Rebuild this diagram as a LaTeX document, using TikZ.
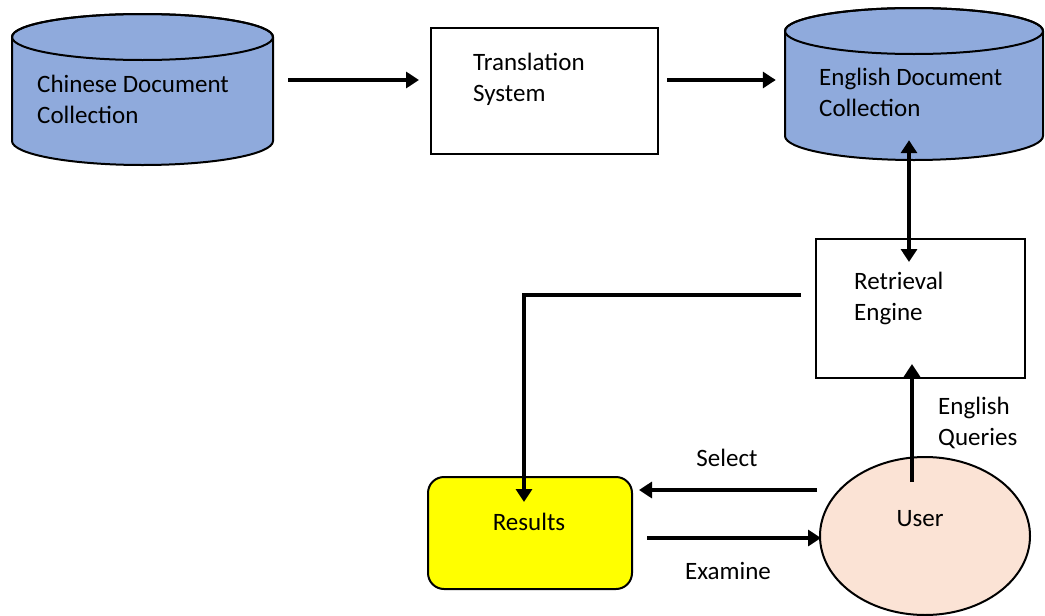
\documentclass[tikz,border=0pt]{standalone}
\usepackage{fontspec}
\setmainfont{Carlito}
\usetikzlibrary{arrows.meta,shapes.geometric}
\definecolor{cylblue}{HTML}{8FAADC}
\definecolor{peach}{HTML}{FBE3D5}
\definecolor{resyellow}{HTML}{FFFF00}
\tikzset{
  txt/.style={anchor=base west,inner sep=0pt,align=left,font=\fontsize{25pt}{31pt}\selectfont},
  ctxt/.style={anchor=base,inner sep=0pt,font=\fontsize{25pt}{31pt}\selectfont},
  boxshape/.style={draw=black,line width=2pt,rectangle,inner sep=0pt},
  area/.style={draw=none,rectangle,inner sep=0pt},
  cylbody/.style={fill=cylblue,draw=black,line width=2pt},
  arr/.style={line width=4.5pt,-{Triangle[length=13pt,width=16pt]}},
  dblarr/.style={line width=4.5pt,{Triangle[length=13pt,width=16pt]}-{Triangle[length=13pt,width=16pt]}},
}
\begin{document}
\begin{tikzpicture}[x=1pt,y=1pt]
\useasboundingbox (0,0) rectangle (1045,-616);
% Chinese cylinder
\path[cylbody] (12,-37) -- (12,-141) arc (180:360:130.5 and 24) -- (273,-37) arc (0:180:130.5 and 23) -- cycle;
\draw[line width=2pt] (142.5,-37) ellipse (130.5 and 23);
\node[area,minimum width=261pt,minimum height=151pt] (chin) at (142.5,-89.5) {};
\node[txt] (chintxt) at (37,-123) {Chinese Document\\Collection};
% English cylinder
\path[cylbody] (785,-31) -- (785,-136) arc (180:360:129 and 24) -- (1043,-31) arc (0:180:129 and 23) -- cycle;
\draw[line width=2pt] (914,-31) ellipse (129 and 23);
\node[area,minimum width=258pt,minimum height=152pt] (eng) at (914,-84) {};
\node[txt] (engtxt) at (819,-116) {English Document\\Collection};
% Translation system
\node[boxshape,minimum width=227pt,minimum height=126pt] (trans) at (544.5,-91) {};
\node[txt] (transtxt) at (473,-101) {Translation\\System};
% Retrieval engine
\node[boxshape,minimum width=209pt,minimum height=139pt] (retr) at (920.5,-308.5) {};
\node[txt] (retrtxt) at (854,-320) {Retrieval\\Engine};
% Results
\node[boxshape,fill=resyellow,rounded corners=16pt,minimum width=204pt,minimum height=112pt] (res) at (530,-533) {};
\node[ctxt] (restxt) at (529,-530) {Results};
% User
\node[ellipse,draw=black,line width=2pt,fill=peach,minimum width=210pt,minimum height=158pt,inner sep=0pt] (user) at (925,-536) {};
\node[ctxt] (usertxt) at (920,-526) {User};
% connectors
\draw[arr] ([shift={(15,9.5)}]chin.east) -- ([shift={(-11,11)}]trans.west);
\draw[arr] ([shift={(8,11)}]trans.east) -- ([shift={(-9,4)}]eng.west);
\draw[dblarr] ([shift={(-5,20)}]eng.south) -- ([shift={(-11.5,-24)}]retr.north);
\draw[arr,line join=miter] ([shift={(-14,13.5)}]retr.west) -| ([shift={(-6,-26)}]res.north);
\draw[arr] ([shift={(-13,-26)}]user.north) -- ([shift={(-8.5,15)}]retr.south);
\draw[arr] ([shift={(-2,46)}]user.west) -- ([shift={(6,43)}]res.east);
\draw[arr] ([shift={(14,-5)}]res.east) -- ([shift={(2,-2)}]user.west);
% labels
\node[txt] (eqtxt) at (938,-445) {English\\Queries};
\node[ctxt] (seltxt) at (727,-466) {Select};
\node[ctxt] (examtxt) at (728,-579) {Examine};
\end{tikzpicture}
\end{document}
